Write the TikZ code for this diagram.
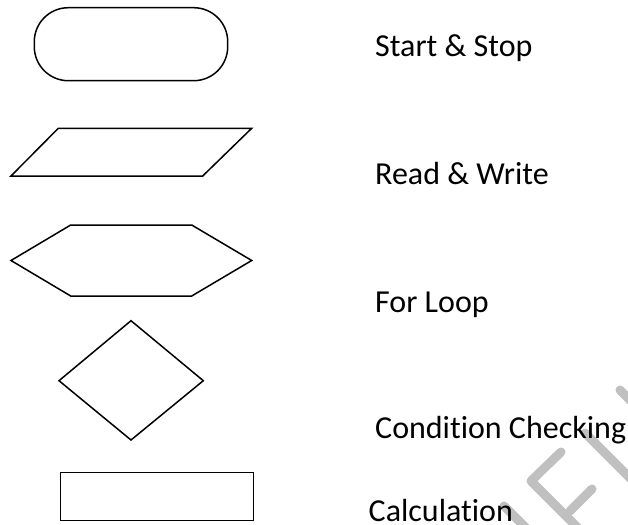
\documentclass[tikz,border=0pt]{standalone}
\usepackage{fontspec}
\setmainfont{Carlito}[Ligatures=NoCommon]
\definecolor{wmgray}{RGB}{192,192,192}
\begin{document}
\begin{tikzpicture}[x=1pt,y=-1pt,
  symbol/.style={draw=black,line width=1.5pt,line join=miter},
  legend/.style={anchor=base west,inner sep=0pt,font=\fontsize{32}{36}\selectfont},
  wmark/.style={draw=wmgray,line width=9pt,line cap=round,line join=round}]
\useasboundingbox (0,0) rectangle (628,524);
\begin{scope}
\clip (0,0) rectangle (628,524);
% faint diagonal watermark strokes
\draw[wmark] (620,390) -- (660,430);
\draw[wmark] (585,433) -- (690,538);
\draw[wmark] (561,452) -- (531,481) -- (590,540);
\draw[wmark] (592,489) -- (570,511);
\draw[wmark] (504,506) -- (540,542);
\end{scope}
% flowchart symbols
\draw[symbol,rounded corners=34pt] (34.3,7.7) rectangle (227.7,80.7);
\coordinate (terminal) at (131,44);
\draw[symbol] (58.3,128.3) -- (251.7,128.3) -- (202.7,176) -- (11,176) -- cycle;
\coordinate (io) at (131,152);
\draw[symbol] (70.7,225) -- (191.7,225) -- (251.7,260.5) -- (191.7,296) -- (70.7,296) -- (11,260.5) -- cycle;
\coordinate (loop) at (131,260.5);
\draw[symbol] (131,320.7) -- (203.3,380.7) -- (131,440) -- (59,380.7) -- cycle;
\coordinate (decision) at (131,380.7);
\draw[symbol] (60.7,472.7) rectangle (253.3,520.7);
\coordinate (process) at (157,496.7);
% labels
\node[legend] (lstart) at (375,57) {Start \& Stop};
\node[legend] (lread) at (375,184) {Read \& Write};
\node[legend] (lfor) at (375,312) {For Loop};
\node[legend] (lcond) at (375,438) {Condition Checking};
\node[legend] (lcalc) at (368.5,521) {Calculation};
\end{tikzpicture}
\end{document}
